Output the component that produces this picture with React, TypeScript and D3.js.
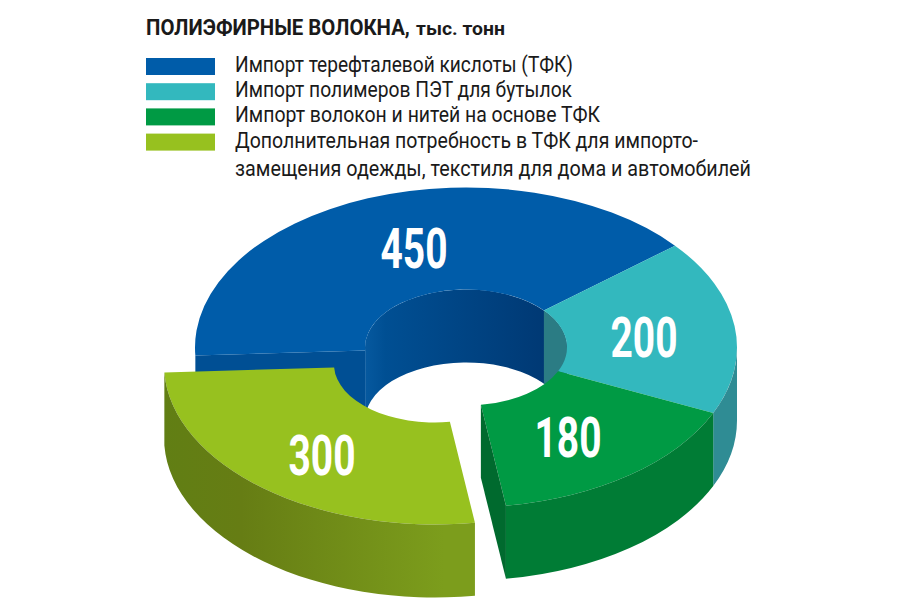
import React from "react";
import * as d3 from "d3";

const categories = ["Импорт терефталевой кислоты (ТФК)", "Импорт полимеров ПЭТ для бутылок", "Импорт волокон и нитей на основе ТФК", "Дополнительная потребность в ТФК для импорто-"];
const extraLine = "замещения одежды, текстиля для дома и автомобилей";
const values = [450, 200, 180, 300];
const topColors = ["#005ca9", "#33b8be", "#009a44", "#97c11f"];
const legendWidths = [338, 337, 365, 463];
const extraWidth = 516;
const titleBold = "ПОЛИЭФИРНЫЕ ВОЛОКНА,";
const titleLight = "тыс. тонн";

const W = 900, H = 600;
const cx = 466, cy = 347.5, rx = 271, ry = 160, irx = 101, iry = 58, depth = 73;
const rad = Math.PI / 180;
const pie = d3.pie<number>().sort(null).value((d) => d).startAngle(-92.9 * rad).endAngle(267.1 * rad);
const arcs = pie(values);
const labelPos: [number, number][] = [[414, 248], [644, 337], [568, 437], [322, 455]];
const explode = { dx: -31, dy: 17 };

const pt = (a: number, x: number, y: number, dy = 0): [number, number] => [cx + x * Math.sin(a), cy - y * Math.cos(a) + dy];
const f = (p: [number, number]) => `${p[0].toFixed(2)} ${p[1].toFixed(2)}`;
const ell = (x: number, y: number, a0: number, a1: number, sweep: 0 | 1, dy = 0) => {
  const large = Math.abs(a1 - a0) > Math.PI ? 1 : 0;
  return `A ${x} ${y} 0 ${large} ${sweep} ${f(pt(a1, x, y, dy))}`;
};
const topPath = (a0: number, a1: number) =>
  `M ${f(pt(a0, rx, ry))} ${ell(rx, ry, a0, a1, 1)} L ${f(pt(a1, irx, iry))} ${ell(irx, iry, a1, a0, 0)} Z`;
const wall = (x: number, y: number, a0: number, a1: number) =>
  `M ${f(pt(a0, x, y))} ${ell(x, y, a0, a1, 1)} L ${f(pt(a1, x, y, depth))} ${ell(x, y, a1, a0, 0, depth)} Z`;
const face = (a: number) =>
  `M ${f(pt(a, irx, iry))} L ${f(pt(a, rx, ry))} L ${f(pt(a, rx, ry, depth))} L ${f(pt(a, irx, iry, depth))} Z`;

const [blue, teal, green, lime] = arcs;
const q = Math.PI / 2;
const font = "Roboto, 'Liberation Sans', sans-serif";

export default function App() {
  return (
    <svg width={W} height={H} viewBox={`0 0 ${W} ${H}`} style={{ position: "absolute", left: 0, top: 0, background: "#fff" }}>
      <defs>
        <linearGradient id="gBlue" gradientUnits="userSpaceOnUse" x1={cx - irx} x2={cx + irx} y1="0" y2="0">
          <stop offset="0" stopColor="#06599f" />
          <stop offset="0.1" stopColor="#004f93" />
          <stop offset="1" stopColor="#003670" />
        </linearGradient>
        <linearGradient id="gLime" gradientUnits="userSpaceOnUse" x1="163" x2="475" y1="0" y2="0">
          <stop offset="0" stopColor="#5f7f14" />
          <stop offset="0.35" stopColor="#667d14" />
          <stop offset="1" stopColor="#7c9d1c" />
        </linearGradient>
      </defs>

      <text transform="translate(146,35) scale(0.885,1)" fontFamily={font} fontWeight={700} fontSize={23} fill="#1a1a1a">{titleBold}</text>
      <text transform="translate(416,35) scale(1.02,1)" fontFamily={font} fontWeight={700} fontSize={19} fill="#1a1a1a">{titleLight}</text>
      {categories.map((c, i) => (
        <g key={c}>
          <rect x={146} y={58 + i * 25.2} width={69} height={17} fill={topColors[i]} />
          <text x={235} y={72 + i * 25.2} fontFamily={font} fontSize={22} fill="#1a1a1a" textLength={legendWidths[i]} lengthAdjust="spacingAndGlyphs">{c}</text>
        </g>
      ))}
      <text x={235} y={176} fontFamily={font} fontSize={22} fill="#1a1a1a" textLength={extraWidth} lengthAdjust="spacingAndGlyphs">{extraLine}</text>

      <path d={wall(irx, iry, blue.startAngle, q)} fill="url(#gBlue)" />
      <path d={wall(irx, iry, teal.startAngle, q)} fill="#2b7c84" />
      <path d={face(blue.startAngle)} fill="#004f94" />
      <path d={topPath(blue.startAngle, blue.endAngle)} fill={topColors[0]} />
      <path d={topPath(teal.startAngle, teal.endAngle)} fill={topColors[1]} />
      <path d={wall(rx, ry, q, teal.endAngle)} fill="#2f8c94" />
      <path d={topPath(green.startAngle, green.endAngle)} fill={topColors[2]} />
      <path d={wall(rx, ry, green.startAngle, green.endAngle)} fill="#007c35" />
      <path d={face(green.endAngle)} fill="#006a2e" />
      <g transform={`translate(${explode.dx},${explode.dy})`}>
        <path d={topPath(lime.startAngle, lime.endAngle)} fill={topColors[3]} />
        <path d={wall(rx, ry, lime.startAngle, lime.endAngle)} fill="url(#gLime)" />
      </g>

      {values.map((v, i) => (
        <text key={v} x={labelPos[i][0]} y={labelPos[i][1]} dy="0.36em" textAnchor="middle" fontFamily={font} fontWeight={700} fontSize={55} fill="#fff" textLength={67} lengthAdjust="spacingAndGlyphs">{v}</text>
      ))}
    </svg>
  );
}
